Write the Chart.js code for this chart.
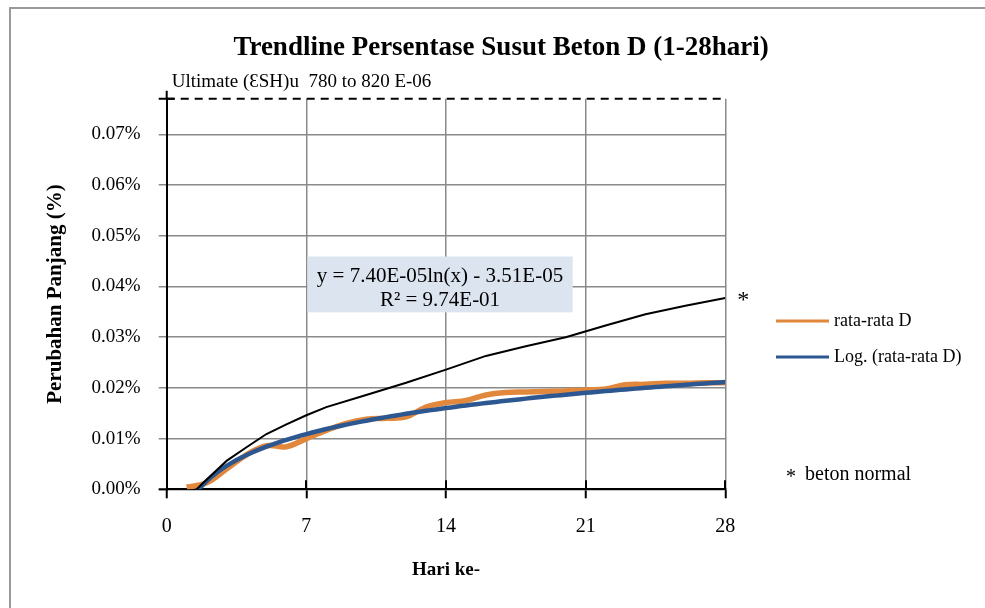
<!DOCTYPE html>
<html>
<head>
<meta charset="utf-8">
<script src="https://cdn.jsdelivr.net/npm/chart.js@4.4.1/dist/chart.umd.min.js"></script>
<style>
  html, body { margin: 0; padding: 0; background: #fff; }
  #wrap { width: 985px; height: 608px; position: relative; }
</style>
</head>
<body>
<div id="wrap"><canvas id="c" width="985" height="608"></canvas></div>
<script>
// Measurement days and averaged shrinkage strain of concrete D (mm/mm)
const days = [1, 2, 3, 4, 5, 6, 7, 8, 9, 10, 11, 12, 13, 14,
              15, 16, 17, 18, 19, 20, 21, 22, 23, 24, 25, 26, 27, 28];
const rataRataD = [0.0000040, 0.0000130, 0.0000400, 0.0000680, 0.0000860, 0.0000840, 0.0001000,
                   0.0001160, 0.0001300, 0.0001380, 0.0001400, 0.0001430, 0.0001620, 0.0001710,
                   0.0001750, 0.0001860, 0.0001910, 0.0001920, 0.0001930, 0.0001940, 0.0001960,
                   0.0001980, 0.0002060, 0.0002070, 0.0002090, 0.0002090, 0.0002100, 0.0002100];

// Reference curve for normal concrete ("beton normal")
const normalDays = [1.5, 2, 3, 4, 5, 6, 7, 8, 10, 12, 14, 16, 18, 20, 22, 24, 26, 28];
const betonNormal = [0.0000000, 0.0000190, 0.0000560, 0.0000830, 0.0001090, 0.0001280, 0.0001460,
                     0.0001620, 0.0001860, 0.0002100, 0.0002360, 0.0002630, 0.0002820, 0.0003000,
                     0.0003230, 0.0003450, 0.0003620, 0.0003770];

// Logarithmic trendline coefficients: y = A ln(x) + B
const trendA = 7.40e-5;
const trendB = -3.51e-5;
const trendR2 = 9.74e-1;

// Ultimate shrinkage reference level drawn as the dashed top line
const ultimateLevel = 0.00077;

// Axis ticks
const xTicks = [0, 7, 14, 21, 28];
const yTicks = [0, 0.0001, 0.0002, 0.0003, 0.0004, 0.0005, 0.0006, 0.0007];

const SERIF = "'Liberation Serif', 'Times New Roman', serif";

// Trendline sampled across the measured range
const trendPoints = [];
for (let d = days[0]; d <= days[days.length - 1] + 1e-9; d += 0.25) {
  trendPoints.push({ x: d, y: trendA * Math.log(d) + trendB });
}

const fmtExp = (v) => {
  const [m, e] = Math.abs(v).toExponential(2).split('e');
  const n = parseInt(e, 10);
  const es = (n < 0 ? '-' : '+') + String(Math.abs(n)).padStart(2, '0');
  return m + 'E' + es;
};

const eqLine1 = 'y = ' + fmtExp(trendA) + 'ln(x) ' + (trendB < 0 ? '- ' : '+ ') + fmtExp(trendB);
const eqLine2 = 'R² = ' + fmtExp(trendR2);

const COLORS = {
  orange: '#e2883c',
  blue: '#2d5790',
  black: '#000000',
  grid: '#8a8a8a'
};

const decor = {
  id: 'decor',
  beforeDraw(chart) {
    const ctx = chart.ctx;
    ctx.save();
    ctx.fillStyle = '#ffffff';
    ctx.fillRect(0, 0, chart.width, chart.height);
    // outer frame
    ctx.strokeStyle = '#9a9a9a';
    ctx.lineWidth = 2;
    ctx.beginPath();
    ctx.moveTo(10, chart.height + 5);
    ctx.lineTo(10, 8);
    ctx.lineTo(chart.width + 5, 8);
    ctx.stroke();
    // chart title
    ctx.fillStyle = '#000';
    ctx.font = 'bold 27px ' + SERIF;
    ctx.textAlign = 'center';
    ctx.textBaseline = 'alphabetic';
    ctx.fillText('Trendline Persentase Susut Beton D (1-28hari)', 501, 55);
    ctx.restore();
  },
  beforeDatasetsDraw(chart) {
    const { ctx, scales: { x, y } } = chart;
    // equation label box
    const bx0 = x.getPixelForValue(7) + 1;
    const bx1 = x.getPixelForValue(20.35);
    const by0 = y.getPixelForValue(0.000459);
    const by1 = y.getPixelForValue(0.000349);
    ctx.save();
    ctx.fillStyle = '#dbe4ef';
    ctx.fillRect(bx0, by0, bx1 - bx0, by1 - by0);
    ctx.fillStyle = '#000';
    ctx.font = '21px ' + SERIF;
    ctx.textAlign = 'center';
    ctx.textBaseline = 'middle';
    const cx = (bx0 + bx1) / 2;
    ctx.fillText(eqLine1, cx, by0 + 20);
    ctx.fillText(eqLine2, cx, by0 + 44);
    ctx.restore();
  },
  afterDraw(chart) {
    const { ctx, chartArea: ca, scales: { x, y } } = chart;
    ctx.save();
    ctx.strokeStyle = '#000';
    ctx.lineWidth = 2;
    // cross ticks on the x axis (upper half)
    xTicks.forEach(v => {
      const px = Math.round(x.getPixelForValue(v));
      ctx.beginPath();
      ctx.moveTo(px, ca.bottom - 9);
      ctx.lineTo(px, ca.bottom);
      ctx.stroke();
    });
    // axis extensions past the origin and the top of the value axis
    ctx.beginPath();
    ctx.moveTo(ca.left - 8, ca.bottom);
    ctx.lineTo(ca.left, ca.bottom);
    ctx.moveTo(ca.left, ca.top);
    ctx.lineTo(ca.left, ca.top - 8);
    ctx.moveTo(ca.left - 8, ca.top);
    ctx.lineTo(ca.left + 8, ca.top);
    ctx.stroke();

    // "Ultimate" caption above the dashed level
    ctx.fillStyle = '#000';
    ctx.font = '19px ' + SERIF;
    ctx.textAlign = 'left';
    ctx.textBaseline = 'alphabetic';
    ctx.fillText('Ultimate (\u0190SH)u  780 to 820 E-06', ca.left + 5, ca.top - 12);

    // asterisk marking the end of the normal concrete curve
    const lx = x.getPixelForValue(normalDays[normalDays.length - 1]);
    const ly = y.getPixelForValue(betonNormal[betonNormal.length - 1]);
    ctx.font = '24px ' + SERIF;
    ctx.textBaseline = 'middle';
    ctx.fillText('*', lx + 12, ly + 3);

    // legend
    const lgX = 776, lgW = 53;
    const items = [
      { label: 'rata-rata D', color: COLORS.orange, y: 321 },
      { label: 'Log. (rata-rata D)', color: COLORS.blue, y: 357 }
    ];
    ctx.font = '18px ' + SERIF;
    items.forEach(it => {
      ctx.strokeStyle = it.color;
      ctx.lineWidth = 3;
      ctx.beginPath();
      ctx.moveTo(lgX, it.y);
      ctx.lineTo(lgX + lgW, it.y);
      ctx.stroke();
      ctx.fillStyle = '#000';
      ctx.fillText(it.label, lgX + lgW + 5, it.y);
    });
    ctx.font = '20px ' + SERIF;
    ctx.fillText('*', 786, 478);
    ctx.fillText('beton normal', 805, 475);
    ctx.restore();
  }
};

Chart.defaults.color = '#000';
Chart.defaults.font.family = SERIF;

new Chart(document.getElementById('c'), {
  type: 'line',
  data: {
    datasets: [
      {
        label: 'beton normal',
        data: normalDays.map((d, i) => ({ x: d, y: betonNormal[i] })),
        borderColor: COLORS.black,
        borderWidth: 2,
        pointRadius: 0,
        tension: 0,
        order: 0
      },
      {
        label: 'Log. (rata-rata D)',
        data: trendPoints,
        borderColor: COLORS.blue,
        borderWidth: 4.5,
        pointRadius: 0,
        tension: 0,
        clip: 0,
        order: 1
      },
      {
        label: 'rata-rata D',
        data: days.map((d, i) => ({ x: d, y: rataRataD[i] })),
        borderColor: COLORS.orange,
        borderWidth: 5.5,
        pointRadius: 0,
        tension: 0.4,
        order: 2
      },
      {
        label: 'ultimate',
        data: [{ x: 0, y: ultimateLevel }, { x: 28, y: ultimateLevel }],
        borderColor: '#000',
        borderWidth: 2,
        borderDash: [8, 6],
        pointRadius: 0,
        clip: false,
        order: 3
      }
    ]
  },
  options: {
    responsive: false,
    animation: false,
    devicePixelRatio: 1,
    layout: { padding: { left: 10, right: 259.7, top: 98.8, bottom: 0 } },
    plugins: {
      legend: { display: false },
      tooltip: { enabled: false },
      title: { display: false }
    },
    scales: {
      x: {
        type: 'linear',
        min: 0,
        max: 28,
        afterFit(s) { s.height = 118.7; },
        afterBuildTicks(s) { s.ticks = xTicks.map(v => ({ value: v })); },
        ticks: { font: { size: 20 }, padding: 16, color: '#000' },
        grid: { color: COLORS.grid, lineWidth: 1.5, tickLength: 9, tickColor: '#000', tickWidth: 2 },
        border: { color: '#000', width: 2 },
        title: {
          display: true,
          text: 'Hari ke-',
          color: '#000',
          font: { size: 19, weight: 'bold' },
          padding: { top: 0, bottom: 26.6 }
        }
      },
      y: {
        type: 'linear',
        min: 0,
        max: ultimateLevel,
        afterFit(s) { s.width = 156.7; },
        afterBuildTicks(s) { s.ticks = yTicks.map(v => ({ value: v })); },
        ticks: {
          font: { size: 19 },
          padding: 18,
          color: '#000',
          callback: v => (v * 100).toFixed(2) + '%'
        },
        grid: { color: COLORS.grid, lineWidth: 1.5, tickLength: 8, tickColor: COLORS.grid },
        border: { color: '#000', width: 2 },
        title: {
          display: true,
          text: 'Perubahan Panjang (%)',
          color: '#000',
          font: { size: 21, weight: 'bold' },
          padding: { top: 33.4, bottom: 0 }
        }
      }
    }
  },
  plugins: [decor]
});
</script>
</body>
</html>
